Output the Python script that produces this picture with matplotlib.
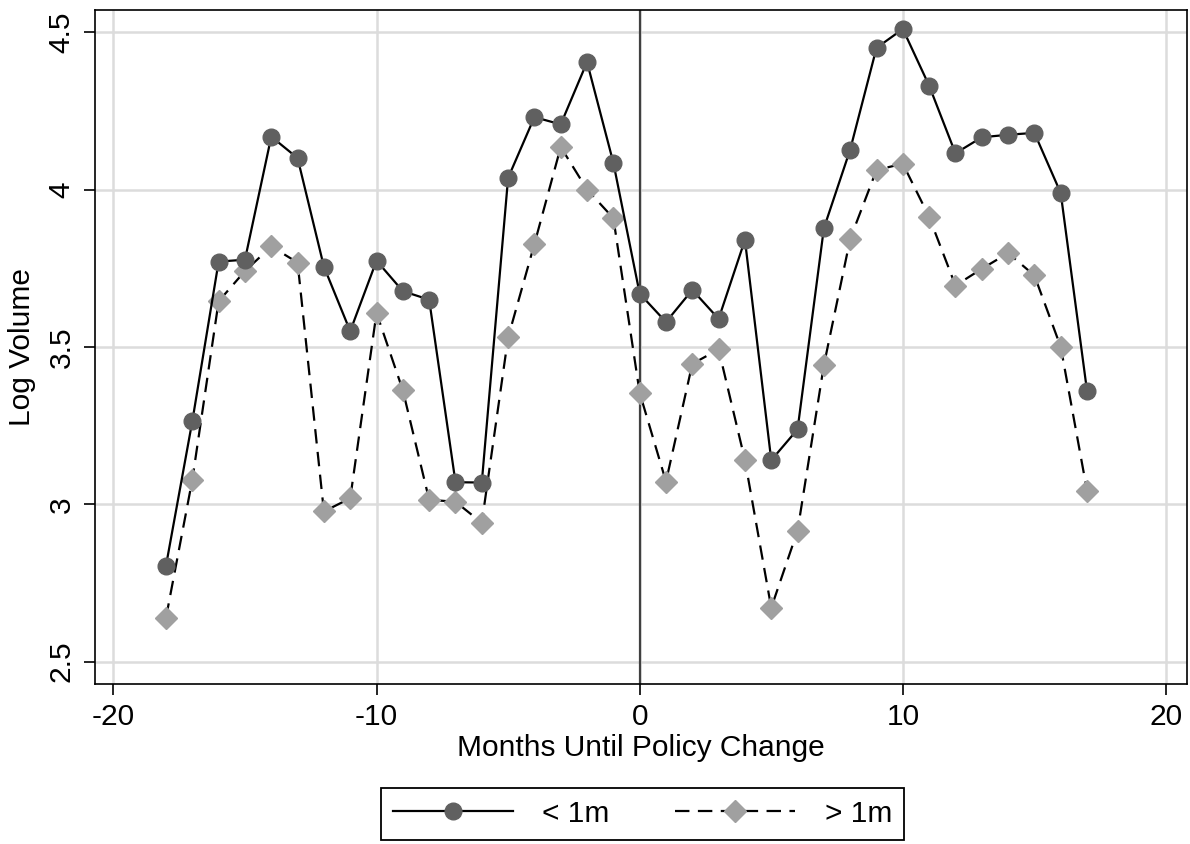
import matplotlib as mpl
from matplotlib import pyplot as plt

mpl.rcParams['font.family'] = ['Liberation Sans', 'DejaVu Sans']
mpl.rcParams['font.size'] = 21.5
mpl.rcParams['axes.unicode_minus'] = False

# months relative to the policy change
months = list(range(-18, 18))

# log volume, trades under 1m
small = [2.805, 3.264, 3.771, 3.777, 4.168, 4.100, 3.755, 3.550, 3.774, 3.677,
         3.650, 3.070, 3.069, 4.037, 4.230, 4.207, 4.405, 4.085,
         3.669, 3.579, 3.681, 3.589, 3.840, 3.140, 3.238, 3.877, 4.127, 4.450,
         4.510, 4.330, 4.115, 4.166, 4.174, 4.180, 3.989, 3.360]

# log volume, trades over 1m
large = [2.640, 3.078, 3.645, 3.741, 3.819, 3.768, 2.977, 3.019, 3.608, 3.362,
         3.014, 3.008, 2.941, 3.530, 3.827, 4.135, 4.000, 3.909,
         3.354, 3.072, 3.446, 3.492, 3.140, 2.671, 2.916, 3.442, 3.843, 4.062,
         4.082, 3.913, 3.695, 3.748, 3.798, 3.727, 3.500, 3.043]

xticks = [-20, -10, 0, 10, 20]
yticks = [2.5, 3, 3.5, 4, 4.5]
ytick_labels = ['2.5', '3', '3.5', '4', '4.5']

fig = plt.figure(figsize=(11.9, 8.44), dpi=100)
ax = fig.add_axes([0.0798, 0.190, 0.9177, 0.798])

ax.grid(True, color='#dcdcdc', linewidth=1.8, zorder=0)
ax.axvline(0, color='#404040', linewidth=1.6, zorder=1.8)

ax.plot(months, small, color='black', linewidth=1.6, marker='o',
        markersize=12, markerfacecolor='#606060', markeredgecolor='#606060',
        label='< 1m', zorder=3)
ax.plot(months, large, color='black', linewidth=1.6, dashes=(6.5, 3.8),
        marker='D', markersize=11, markerfacecolor='#a0a0a0',
        markeredgecolor='#a0a0a0', label='> 1m', zorder=2)

ax.set_xlim(-20.7, 20.8)
ax.set_ylim(2.43, 4.57)
ax.set_xticks(xticks)
ax.set_yticks(yticks)
ax.set_yticklabels(ytick_labels, rotation=90, va='center')
ax.tick_params(direction='out', length=8, width=1.2, color='black', pad=6)
for s in ax.spines.values():
    s.set_color('black')
    s.set_linewidth(1.2)

ax.set_xlabel('Months Until Policy Change', labelpad=2)
ax.set_ylabel('Log Volume', labelpad=8)

leg = fig.legend(loc='center', bbox_to_anchor=(0.54, 0.036), ncol=2,
                 handlelength=4.0, handletextpad=1.0, columnspacing=2.2,
                 fancybox=False, edgecolor='black', framealpha=1,
                 borderpad=0.4)
leg.get_frame().set_linewidth(1.3)

fig.savefig('out.png', dpi=100)
